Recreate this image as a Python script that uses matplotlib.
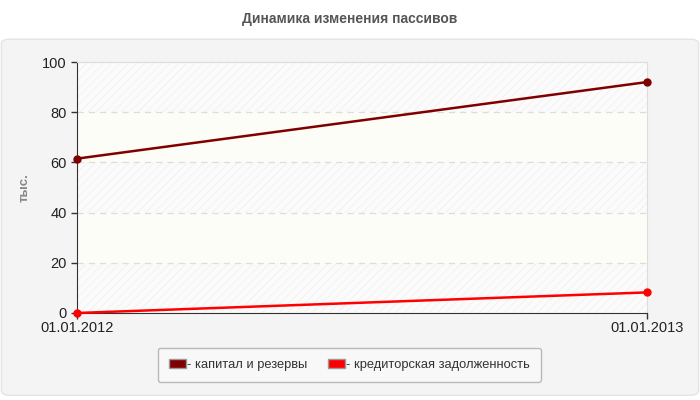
import matplotlib.pyplot as plt
from matplotlib.patches import FancyBboxPatch, Rectangle

dates = ["01.01.2012", "01.01.2013"]
capital = [61.5, 92.0]
creditors = [0.0, 8.2]
series_names = ["- капитал и резервы", "- кредиторская задолженность"]
series_colors = ["#800000", "#ff0000"]
y_ticks = [0, 20, 40, 60, 80, 100]

plt.rcParams["font.family"] = ["Liberation Sans", "DejaVu Sans"]
plt.rcParams["hatch.linewidth"] = 0.4

fig = plt.figure(figsize=(7, 4), dpi=100)
fig.patch.set_facecolor("white")

# rounded grey panel behind the chart
panel = FancyBboxPatch((0.002, 0.012), 0.996, 0.89, boxstyle="round,pad=0,rounding_size=0.012",
                       transform=fig.transFigure, facecolor="#f4f4f4", edgecolor="#e4e4e4",
                       linewidth=1, zorder=-5)
fig.patches.append(panel)

fig.text(0.5, 0.952, "Динамика изменения пассивов", ha="center", va="center",
         fontsize=10, fontweight="bold", color="#555555")

ax = fig.add_axes([0.11, 0.2175, 0.814, 0.6275])
ax.set_facecolor("white")
x = list(range(len(dates)))

# alternating bands
for i, (lo, hi) in enumerate(zip(y_ticks[:-1], y_ticks[1:])):
    if i % 2 == 0:
        ax.add_patch(Rectangle((0, lo), 1, hi - lo, transform=ax.get_yaxis_transform(),
                               facecolor="#fbfbfb", edgecolor="#ececec", hatch="////",
                               linewidth=0, zorder=0))
    else:
        ax.add_patch(Rectangle((0, lo), 1, hi - lo, transform=ax.get_yaxis_transform(),
                               facecolor="#fdfdf7", edgecolor="none", linewidth=0, zorder=0))

for yv in y_ticks[1:-1]:
    ax.axhline(yv, color="#dddddd", linestyle=(0, (5, 4)), linewidth=0.9, zorder=1)

ax.plot(x, capital, color=series_colors[0], linewidth=1.8, marker="o", markersize=5,
        label=series_names[0], zorder=3, clip_on=False)
ax.plot(x, creditors, color=series_colors[1], linewidth=1.8, marker="o", markersize=5,
        label=series_names[1], zorder=3, clip_on=False)

ax.set_xlim(0, 1)
ax.set_ylim(0, 100)
ax.set_xticks(x)
ax.set_xticklabels(dates)
ax.set_yticks(y_ticks)
ax.tick_params(axis="both", direction="out", length=4, width=1, color="#333333",
               labelsize=10.5, labelcolor="#222222")
ax.tick_params(axis="x", pad=2)

for side in ["left", "bottom"]:
    ax.spines[side].set_color("#333333")
for side in ["top", "right"]:
    ax.spines[side].set_color("#dddddd")

ax.set_ylabel("тыс.", color="#888888", fontsize=9.5, fontweight="bold", labelpad=8)

handles = [Rectangle((0, 0), 1, 1, facecolor=c, edgecolor="#999999") for c in series_colors]
leg = fig.legend(handles, series_names, loc="center", bbox_to_anchor=(0.499, 0.088),
                 ncol=2, frameon=True, fontsize=9.3, handlelength=1.3, handleheight=0.7,
                 handletextpad=0.1, columnspacing=1.6, borderpad=0.85, fancybox=True)
leg.get_frame().set_facecolor("#fafafa")
leg.get_frame().set_edgecolor("#aaaaaa")
for t in leg.get_texts():
    t.set_color("#333333")

fig.savefig("out.png", dpi=100)
